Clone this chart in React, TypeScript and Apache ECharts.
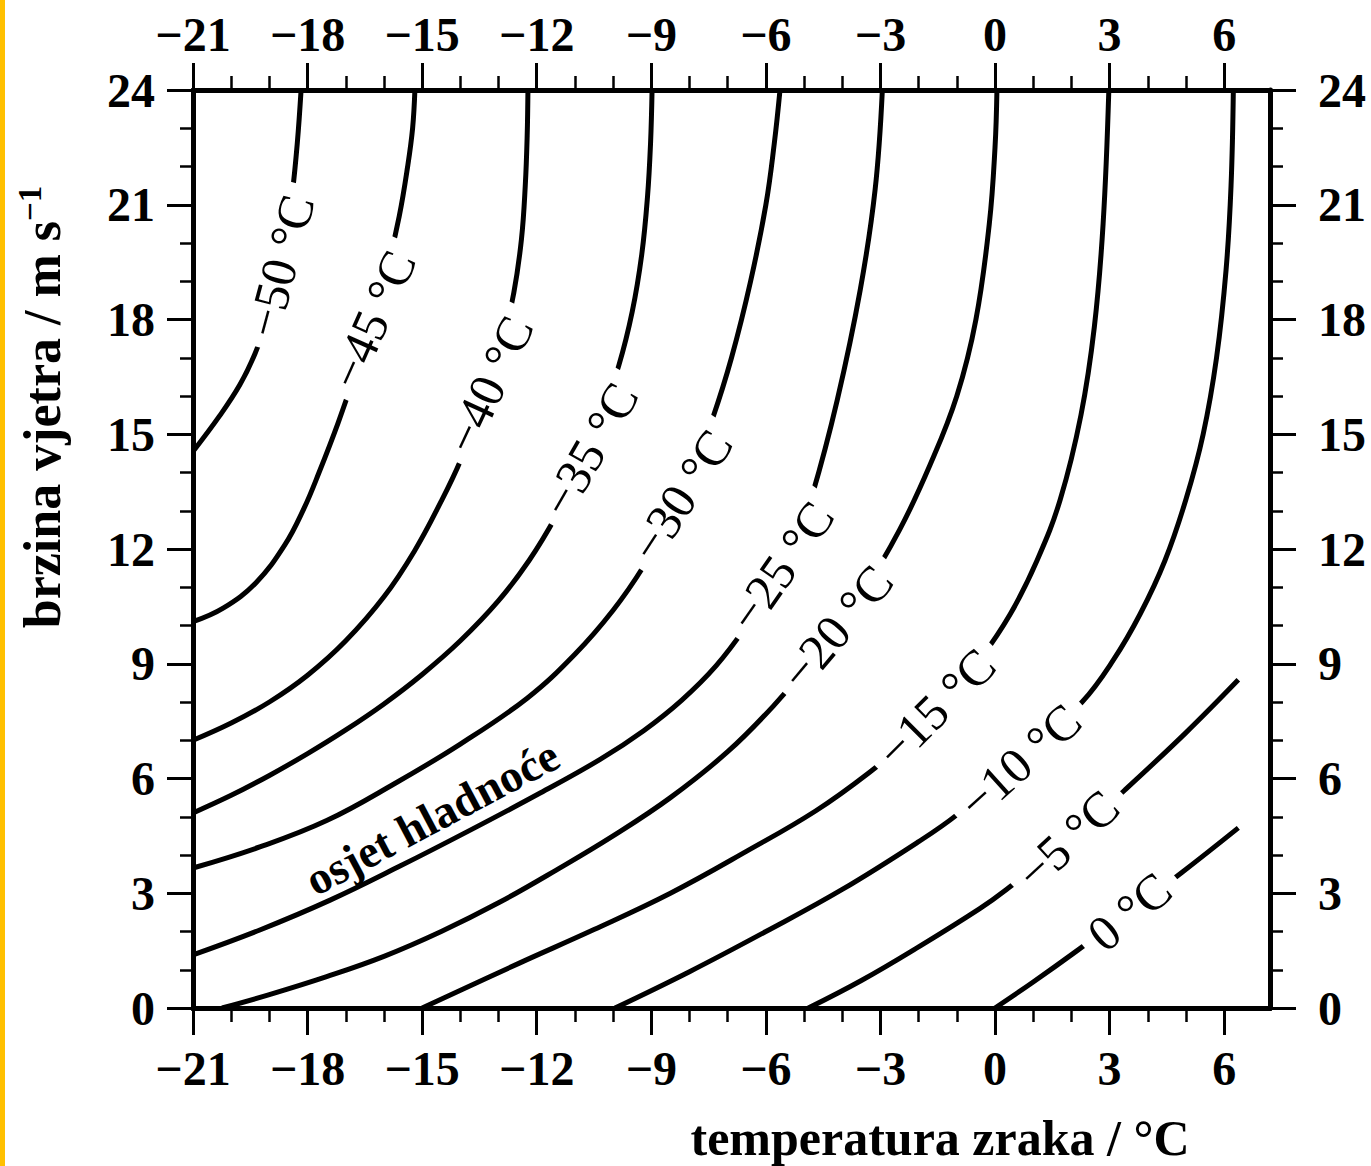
import React, { useEffect, useRef } from "react";
import * as echarts from "echarts";

// ---------- data ----------
const xMajorTicks = [-21, -18, -15, -12, -9, -6, -3, 0, 3, 6];
const xMinorTicks = [-20, -19, -17, -16, -14, -13, -11, -10, -8, -7, -5, -4, -2, -1, 1, 2, 4, 5];

// wind-chill isolines: [air temperature °C, wind speed m/s]
const wc50 = [[-21, 14.55], [-20.29, 15.5], [-19.77, 16.3], [-19.38, 17.1], [-19.05, 18.0], [-18.78, 19.0], [-18.57, 20.1], [-18.4, 21.3], [-18.27, 22.6], [-18.17, 24]];
const wc45 = [[-21, 10.1], [-20.2, 10.46], [-19.35, 11.12], [-18.6, 12.1], [-18.1, 13.05], [-17.7, 14.0], [-17.2, 15.3], [-16.75, 16.6], [-16.3, 18.0], [-15.9, 19.4], [-15.6, 20.7], [-15.38, 22.0], [-15.25, 23.0], [-15.19, 24]];
const wc40 = [[-21, 7.0], [-20, 7.45], [-19, 8.0], [-18, 8.7], [-17, 9.6], [-16, 10.75], [-15.2, 11.95], [-14.5, 13.25], [-14.0, 14.3], [-13.4, 15.85], [-12.9, 17.4], [-12.6, 18.7], [-12.4, 20.1], [-12.3, 21.5], [-12.25, 22.8], [-12.23, 24]];
const wc35 = [[-21, 5.1], [-20, 5.56], [-19, 6.08], [-18, 6.65], [-17, 7.27], [-16, 7.95], [-15, 8.72], [-14, 9.6], [-13, 10.65], [-12.2, 11.7], [-11.5, 12.85], [-10.9, 14.05], [-10.35, 15.35], [-9.85, 16.8], [-9.5, 18.2], [-9.25, 19.7], [-9.1, 21.2], [-9.02, 22.6], [-8.98, 24]];
const wc30 = [[-21, 3.66], [-19.25, 4.21], [-17.5, 4.9], [-15.75, 5.85], [-14.0, 6.9], [-12.25, 8.1], [-11.0, 9.25], [-10.0, 10.4], [-9.2, 11.55], [-8.5, 12.8], [-7.9, 14.1], [-7.4, 15.4], [-6.9, 17.0], [-6.4, 19.0], [-6.0, 21.0], [-5.78, 22.6], [-5.63, 24]];
const wc25 = [[-21, 1.39], [-19.25, 2.04], [-17.41, 2.82], [-15.58, 3.71], [-13.74, 4.65], [-11.91, 5.62], [-10.34, 6.5], [-9.2, 7.25], [-8.2, 8.05], [-7.3, 8.95], [-6.5, 10.0], [-5.8, 11.1], [-5.2, 12.3], [-4.79, 13.4], [-4.13, 15.9], [-3.53, 18.77], [-3.14, 21.39], [-2.95, 24]];
const wc20 = [[-20.24, 0], [-19, 0.35], [-17.5, 0.82], [-16, 1.35], [-14.5, 2.0], [-13, 2.75], [-11.5, 3.6], [-10, 4.5], [-8.5, 5.5], [-7, 6.7], [-5.8, 7.9], [-4.6, 9.3], [-3.5, 10.8], [-2.5, 12.5], [-1.7, 14.2], [-1.0, 16.0], [-0.5, 18.0], [-0.15, 20.5], [0.0, 22.5], [0.05, 24]];
const wc15 = [[-15, 0], [-12.44, 1.18], [-10.5, 2.05], [-8.5, 3.0], [-6.5, 4.1], [-4.7, 5.15], [-3.3, 6.15], [-2.3, 7.0], [-1.3, 8.0], [-0.4, 9.1], [0.4, 10.3], [1.1, 11.7], [1.71, 13.3], [2.25, 15.5], [2.6, 17.8], [2.83, 20.5], [2.98, 24]];
const wc10 = [[-9.95, 0], [-8, 0.95], [-6, 2.0], [-4, 3.1], [-2, 4.35], [-1.0, 5.05], [0.65, 6.45], [2.28, 8.0], [3.1, 9.1], [3.8, 10.3], [4.45, 11.7], [5.0, 13.3], [5.45, 15.0], [5.8, 17.0], [6.05, 19.3], [6.18, 21.5], [6.24, 24]];
const wc5 = [[-4.89, 0], [-3.5, 0.72], [-2, 1.6], [-0.4, 2.6], [0.3, 3.1], [2.0, 4.45], [3.4, 5.7], [5, 7.2], [6.37, 8.58]];
const wc0 = [[0, 0], [1, 0.68], [2.15, 1.5], [3.5, 2.5], [4.9, 3.55], [6.37, 4.71]];

const contours = [wc50, wc45, wc40, wc35, wc30, wc25, wc20, wc15, wc10, wc5, wc0];
const contourNames = ["−50 °C", "−45 °C", "−40 °C", "−35 °C", "−30 °C", "−25 °C", "−20 °C", "−15 °C", "−10 °C", "−5 °C", "0 °C"];
// where each isoline label sits (data coords) and its angle (deg, anticlockwise)
const labelAnchors = [[-18.72, 19.4], [-16.3, 18.0], [-13.25, 16.3], [-10.62, 14.6], [-8.22, 13.4], [-5.6, 11.55], [-4.15, 9.95], [-1.55, 7.85], [0.65, 6.45], [1.9, 4.4], [3.52, 2.52]];
const labelAngles = [75, 66, 65, 60, 57, 55, 50, 45, 42, 43, 40];
const noteText = "osjet hladnoće";
const noteAnchor = [-14.74, 4.98];
const noteAngle = 28;

const xTitle = "temperatura zraka / °C";
const yTitle = "brzina vjetra / m s";

const FONT = '"Liberation Serif", "Times New Roman", serif';
const fmt = (v: number) => (v < 0 ? "\u2212" + Math.abs(v) : String(v));

export default function App() {
  const ref = useRef<HTMLDivElement>(null);
  useEffect(() => {
    if (!ref.current) return;
    const chart = echarts.init(ref.current, undefined, { renderer: "svg" });
    const axisLine = { show: true, onZero: false, lineStyle: { color: "#000", width: 5 } };
    const majorLabel = { fontFamily: FONT, fontSize: 48, fontWeight: "bold", color: "#000", formatter: fmt };
    const xBase = { type: "value", min: -21, max: 7.2, splitLine: { show: false }, axisLine };
    const yBase = {
      type: "value", min: 0, max: 24, interval: 3, splitLine: { show: false }, axisLine,
      axisTick: { show: true, length: 26, lineStyle: { color: "#000", width: 3 } },
      minorTick: { show: true, splitNumber: 3, length: 13, lineStyle: { color: "#000", width: 2.5 } },
    };
    const option: any = {
      animation: false,
      backgroundColor: "#fff",
      grid: { left: 193, right: 101, top: 90, bottom: 158, containLabel: false },
      xAxis: [
        { ...xBase, position: "bottom",
          axisTick: { show: true, customValues: xMajorTicks, length: 27, lineStyle: { color: "#000", width: 3 } },
          axisLabel: { ...majorLabel, customValues: xMajorTicks, margin: 36 } },
        { ...xBase, position: "bottom",
          axisTick: { show: true, customValues: xMinorTicks, length: 14, lineStyle: { color: "#000", width: 2.5 } },
          axisLabel: { show: false } },
        { ...xBase, position: "top",
          axisTick: { show: true, customValues: xMajorTicks, length: 27, lineStyle: { color: "#000", width: 3 } },
          axisLabel: { ...majorLabel, customValues: xMajorTicks, margin: 32 } },
        { ...xBase, position: "top",
          axisTick: { show: true, customValues: xMinorTicks, length: 14, lineStyle: { color: "#000", width: 2.5 } },
          axisLabel: { show: false } },
      ],
      yAxis: [
        { ...yBase, position: "left", axisLabel: { ...majorLabel, margin: 38 } },
        { ...yBase, position: "right", axisLabel: { ...majorLabel, margin: 48 } },
      ],
      series: contours.map((d) => ({
        type: "line", data: d, smooth: 0.4, symbol: "none", showSymbol: false, silent: true,
        xAxisIndex: 0, yAxisIndex: 0, z: 2,
        lineStyle: { color: "#000", width: 5 },
      })),
    };
    chart.setOption(option);

    const toPx = (p: number[]) => chart.convertToPixel({ seriesIndex: 0 }, p) as number[];
    const labelGraphics = labelAnchors.map((p, i) => {
      const [px, py] = toPx(p);
      return {
        type: "text", x: px, y: py, rotation: (labelAngles[i] * Math.PI) / 180, z: 100,
        style: {
          text: contourNames[i], fontFamily: FONT, fontSize: 50, fill: "#000",
          align: "center", verticalAlign: "middle", backgroundColor: "#fff", padding: [0, 12],
        },
      };
    });
    const [nx, ny] = toPx(noteAnchor);
    chart.setOption({
      graphic: [
        { type: "rect", shape: { x: 0, y: 0, width: 5, height: 1166 }, style: { fill: "#FFC000" }, z: 100 },
        { type: "text", x: 940, y: 1138, z: 100,
          style: { text: xTitle, fontFamily: FONT, fontSize: 50, fontWeight: "bold", fill: "#000",
            align: "center", verticalAlign: "middle" } },
        { type: "text", x: 42, y: 407, rotation: Math.PI / 2, z: 100,
          style: {
            text: "{m|" + yTitle + "}{s|−1}",
            align: "center", verticalAlign: "middle", fill: "#000",
            rich: {
              m: { fontFamily: FONT, fontSize: 52, fontWeight: "bold", fill: "#000", lineHeight: 58, verticalAlign: "middle" },
              s: { fontFamily: FONT, fontSize: 33, fontWeight: "bold", fill: "#000", lineHeight: 33, verticalAlign: "top" },
            },
          } },
        { type: "text", x: nx, y: ny, rotation: (noteAngle * Math.PI) / 180, z: 100,
          style: { text: noteText, fontFamily: FONT, fontSize: 46, fontWeight: "bold", fill: "#000",
            align: "center", verticalAlign: "middle" } },
        ...labelGraphics,
      ],
    });
    return () => chart.dispose();
  }, []);
  return (
    <div
      ref={ref}
      style={{ position: "absolute", left: 0, top: 0, width: 1371, height: 1166, background: "#fff" }}
    />
  );
}
